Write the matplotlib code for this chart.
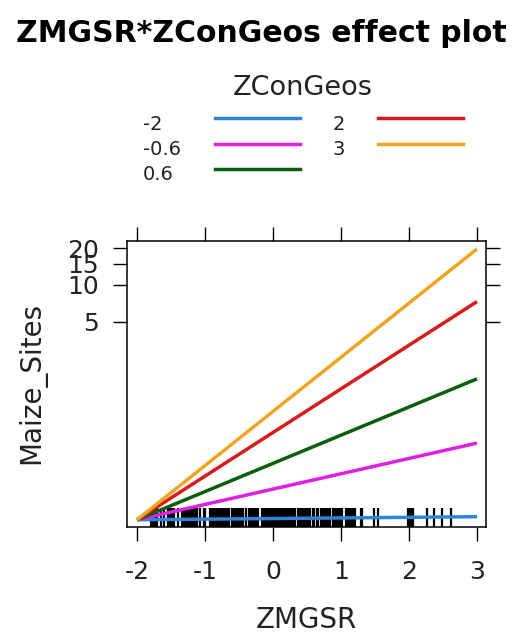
import matplotlib.pyplot as plt
from matplotlib.lines import Line2D
from matplotlib.ticker import NullLocator

# ZConGeos levels and their colours (lattice superpose defaults)
levels = ["-2", "-0.6", "0.6", "2", "3"]
colors = ["#2f84dc", "#e020e0", "#0b5e0b", "#d81b1b", "#eea620"]

# fitted Maize_Sites at the ends of the ZMGSR range, one list per level
zmgsr = [-2, 3]
sites_m2 = [0.117, 0.124]
sites_m06 = [0.117, 0.50]
sites_06 = [0.117, 1.69]
sites_2 = [0.117, 7.3]
sites_3 = [0.117, 19.8]
series = [sites_m2, sites_m06, sites_06, sites_2, sites_3]

# observed ZMGSR values (rug)
rug_x = [
    -1.80, -1.78, -1.76, -1.74, -1.72, -1.70, -1.64, -1.61,
    -1.55, -1.53, -1.51, -1.49, -1.47, -1.45, -1.40, -1.34, -1.32, -1.30,
    -1.26, -1.24, -1.22, -1.20, -1.18, -1.16, -1.14, -1.12, -1.07, -1.02, -1.00,
    -0.92, -0.90, -0.88, -0.86, -0.84, -0.82, -0.80, -0.78, -0.76, -0.74,
    -0.72, -0.70, -0.68, -0.66, -0.64, -0.60, -0.58, -0.56, -0.54, -0.52,
    -0.50, -0.48, -0.46, -0.44, -0.39, -0.36, -0.32, -0.30, -0.28, -0.25, -0.22,
    -0.16, -0.14, -0.12, -0.10, -0.08, -0.06, -0.04, -0.02, 0.00, 0.02, 0.04,
    0.06, 0.08, 0.10, 0.13, 0.15, 0.17, 0.19, 0.21, 0.23, 0.25, 0.27, 0.29,
    0.31, 0.33, 0.37, 0.39, 0.41, 0.43, 0.45, 0.47, 0.49, 0.51, 0.53, 0.55,
    0.59, 0.61, 0.64, 0.66, 0.70, 0.72, 0.74, 0.76, 0.78, 0.81, 0.84,
    0.88, 0.90, 0.92, 0.94, 0.96, 0.98, 1.00, 1.02, 1.08, 1.10, 1.12, 1.14,
    1.16, 1.18, 1.20, 1.29, 1.31, 1.49, 1.55, 1.98, 2.00, 2.02, 2.04, 2.06,
    2.26, 2.37, 2.49, 2.62,
]

x_ticks = [-2, -1, 0, 1, 2, 3]
y_ticks = [5, 10, 15, 20]

W, H = 528, 636
fig = plt.figure(figsize=(W / 100, H / 100), dpi=100)
ax = fig.add_axes([127 / W, 1 - 527 / H, 359 / W, 286 / H])

# rug along the bottom
ax.vlines(rug_x, 0, 0.066, colors="black", linewidth=1.6,
          transform=ax.get_xaxis_transform())

for vals, col in zip(series, colors):
    ax.plot(zmgsr, vals, color=col, linewidth=2.5, solid_capstyle="butt")

ax.set_yscale("log")
ax.set_xlim(-2.147, 3.132)
ax.set_ylim(0.102, 23.0)
ax.set_xticks(x_ticks)
ax.set_xticklabels([str(v) for v in x_ticks])
ax.set_yticks(y_ticks)
ax.set_yticklabels([str(v) for v in y_ticks])
ax.yaxis.set_minor_locator(NullLocator())

ax.tick_params(axis="both", direction="out", length=10, width=1.0,
               colors="black", labelcolor="#222222", labelsize=18,
               top=True, right=True)
ax.tick_params(axis="x", pad=14)
ax.tick_params(axis="y", pad=10)
for sp in ax.spines.values():
    sp.set_linewidth(1.1)

ax.set_xlabel("ZMGSR", fontsize=20, color="#222222")
ax.set_ylabel("Maize_Sites", fontsize=20, color="#222222")
ax.xaxis.set_label_coords(0.5, -0.276)
ax.yaxis.set_label_coords(-0.225, 0.503)

# title
fig.text(261.5 / W, 1 - 42 / H, "ZMGSR*ZConGeos effect plot",
         ha="center", va="baseline", fontsize=21.5, fontweight="bold")

# legend, drawn by hand in two columns like lattice's key
fig.text(303 / W, 1 - 95 / H, "ZConGeos", ha="center", va="baseline",
         fontsize=19.5, color="#222222")
label_x = [143, 143, 143, 333, 333]
line_x0 = [215, 215, 215, 378, 378]
rows = [0, 1, 2, 0, 1]
for lab, col, lx, x0, r in zip(levels, colors, label_x, line_x0, rows):
    base = 130 + 25 * r
    ly = 118 + 25.5 * r
    fig.text(lx / W, 1 - base / H, lab, ha="left", va="baseline",
             fontsize=14, color="#222222")
    fig.add_artist(Line2D([x0 / W, (x0 + 85) / W], [1 - ly / H, 1 - ly / H],
                          color=col, linewidth=2.5, transform=fig.transFigure))

fig.savefig("out.png", dpi=100)
